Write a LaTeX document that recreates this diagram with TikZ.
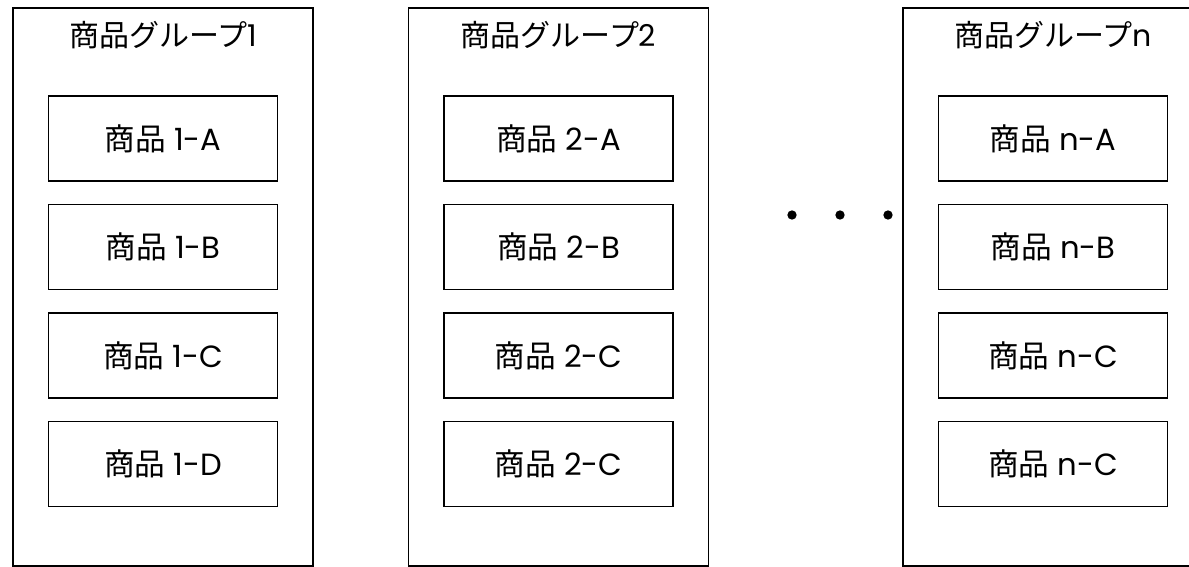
\documentclass[tikz,border=0pt]{standalone}
\usepackage{fontspec}
\setmainfont{Poppins}
\newfontfamily\jpfont{Noto Sans CJK JP}
\newcommand{\jp}[1]{{\jpfont #1}}
\usetikzlibrary{positioning}
\tikzstyle{group} = [rectangle, draw=black, line width=1.1pt, minimum width=225pt, minimum height=418.5pt, inner sep=0pt]
\tikzstyle{grouptitle} = [font=\fontsize{22.5}{26}\selectfont, inner sep=0pt]
\tikzstyle{goods} = [rectangle, draw=black, line width=1.1pt, minimum width=171.75pt, minimum height=63.75pt, font=\fontsize{23}{26}\selectfont, inner sep=0pt]
\tikzstyle{dot} = [circle, fill=black, minimum size=7pt, inner sep=0pt]

\begin{document}
\begin{tikzpicture}[x=0.75pt, y=-0.75pt, node distance=16.5pt]
\useasboundingbox (0,0) rectangle (1189,567);
\clip (0,0) rectangle (1189,567);

% group 1
\node (grp1) [group] at (163,287) {};
\node (title1) [grouptitle, below=21pt of grp1.north, anchor=center] {\jp{商品グループ}1};
\node (goods1a) [goods, below=66pt of grp1.north] {\jp{商品} 1-A};
\node (goods1b) [goods, below=of goods1a] {\jp{商品} 1-B};
\node (goods1c) [goods, below=of goods1b] {\jp{商品} 1-C};
\node (goods1d) [goods, below=of goods1c] {\jp{商品} 1-D};

% group 2
\node (grp2) [group] at (558.5,287) {};
\node (title2) [grouptitle, below=21pt of grp2.north, anchor=center] {\jp{商品グループ}2};
\node (goods2a) [goods, below=66pt of grp2.north] {\jp{商品} 2-A};
\node (goods2b) [goods, below=of goods2a] {\jp{商品} 2-B};
\node (goods2c) [goods, below=of goods2b] {\jp{商品} 2-C};
\node (goods2d) [goods, below=of goods2c] {\jp{商品} 2-C};

% group n
\node (grpn) [group] at (1053,287) {};
\node (titlen) [grouptitle, below=21pt of grpn.north, anchor=center] {\jp{商品グループ}n};
\node (goodsna) [goods, below=66pt of grpn.north] {\jp{商品} n-A};
\node (goodsnb) [goods, below=of goodsna] {\jp{商品} n-B};
\node (goodsnc) [goods, below=of goodsnb] {\jp{商品} n-C};
\node (goodsnd) [goods, below=of goodsnc] {\jp{商品} n-C};

% dots
\node (dot1) [dot] at (792,215) {};
\node (dot2) [dot] at (840,215) {};
\node (dot3) [dot] at (888,215) {};
\end{tikzpicture}
\end{document}
